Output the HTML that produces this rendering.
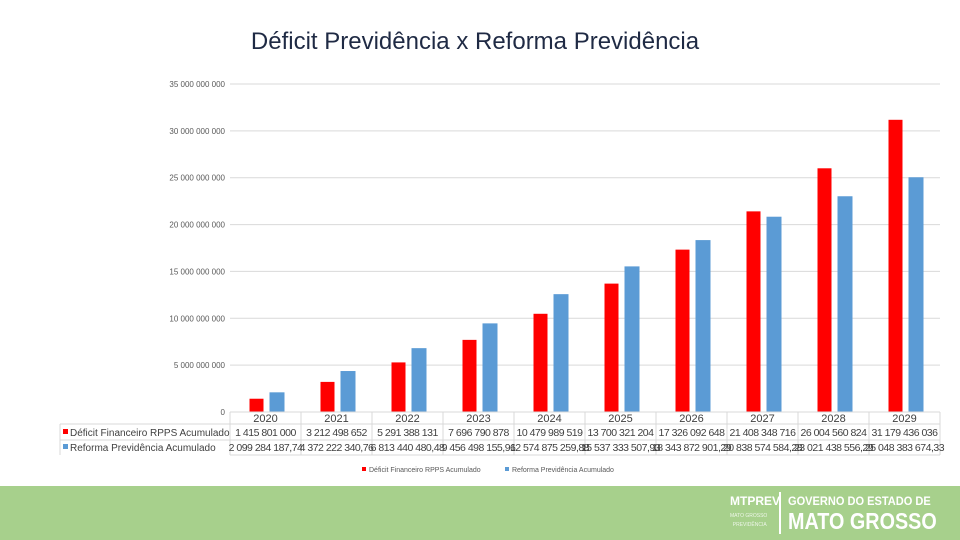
<!DOCTYPE html>
<html><head><meta charset="utf-8"><style>
body{margin:0;width:960px;height:540px;background:#fff;overflow:hidden;font-family:"Liberation Sans",sans-serif;position:relative}
#title{position:absolute;left:0;width:950px;top:28px;text-align:center;font-size:24px;color:#1f2a44}
#footer{position:absolute;left:0;top:486px;width:960px;height:54px;background:#a7d08c;overflow:hidden}
.nw{white-space:nowrap}
</style></head><body>
<div id="title">Déficit Previdência x Reforma Previdência</div>
<svg id="chart" width="960" height="486" style="position:absolute;left:0;top:0"></svg>
<div id="footer">
<div class="nw" style="position:absolute;left:730px;top:8px;color:#fff;font-weight:bold;font-size:12px">MTPREV<div style="font-size:5px;font-weight:normal;margin-top:4px;opacity:.8;line-height:9px">MATO GROSSO<br>&nbsp;&nbsp;PREVIDÊNCIA</div></div>
<div style="position:absolute;left:779px;top:6px;width:2px;height:42px;background:#fff"></div>
<div class="nw" style="position:absolute;left:788px;top:8px;color:#fff;font-weight:bold;font-size:12px;line-height:14px"><span style="display:inline-block;transform:scaleX(0.92);transform-origin:left">GOVERNO DO ESTADO DE</span><div style="font-size:23px;line-height:26px;transform:scaleX(0.86);transform-origin:left">MATO GROSSO</div></div>
</div>
<script>
const categories=["2020","2021","2022","2023","2024","2025","2026","2027","2028","2029"];
const deficit=[1415801000,3212498652,5291388131,7696790878,10479989519,13700321204,17326092648,21408348716,26004560824,31179436036];
const reforma=[2099284187.74,4372222340.76,6813440480.48,9456498155.96,12574875259.88,15537333507.93,18343872901.29,20838574584.28,23021438556.29,25048383674.33];
const deficitLabels=["1 415 801 000","3 212 498 652","5 291 388 131","7 696 790 878","10 479 989 519","13 700 321 204","17 326 092 648","21 408 348 716","26 004 560 824","31 179 436 036"];
const reformaLabels=["2 099 284 187,74","4 372 222 340,76","6 813 440 480,48","9 456 498 155,96","12 574 875 259,88","15 537 333 507,93","18 343 872 901,29","20 838 574 584,28","23 021 438 556,29","25 048 383 674,33"];
const yTicks=[0,5000000000,10000000000,15000000000,20000000000,25000000000,30000000000,35000000000];
const yTickLabels=["0","5 000 000 000","10 000 000 000","15 000 000 000","20 000 000 000","25 000 000 000","30 000 000 000","35 000 000 000"];
const svg=document.getElementById('chart');const NS='http://www.w3.org/2000/svg';
const X0=230,X1=940,Y0=412,Y1=84,MAX=35e9;
const bw=(X1-X0)/categories.length;
const y=v=>Y0-(v/MAX)*(Y0-Y1);
const xc=i=>X0+bw*(i+0.5);
function mk(t,a,txt){const e=document.createElementNS(NS,t);for(const k in a)e.setAttribute(k,a[k]);if(txt!=null)e.textContent=txt;svg.appendChild(e);return e;}
yTicks.forEach((t,i)=>{
 const l=mk('line',{x1:X0,x2:X1,y1:y(t),y2:y(t),stroke:'#d9d9d9','stroke-width':1});
 
 
 const tx=mk('text',{x:225,y:y(t)+3,'text-anchor':'end','font-size':8,fill:'#595959'},yTickLabels[i]);
 
 
});
categories.forEach((c,i)=>{
 const r=mk('rect',{x:xc(i)-16,y:y(deficit[i]),width:14,height:Y0-y(deficit[i]),fill:'#ff0000'});
 
 
 const b=mk('rect',{x:xc(i)+4,y:y(reforma[i]),width:15,height:Y0-y(reforma[i]),fill:'#5b9bd5'});
 
 
});
const rows=[412,424,440,455];
mk('line',{x1:X0,x2:X1,y1:rows[0],y2:rows[0],stroke:'#d9d9d9'});
[1,2,3].forEach(k=>mk('line',{x1:k==3?X0:60,x2:X1,y1:rows[k],y2:rows[k],stroke:'#d9d9d9'}));
mk('line',{x1:60,x2:60,y1:rows[1],y2:rows[3],stroke:'#d9d9d9'});
for(let i=0;i<=categories.length;i++)mk('line',{x1:X0+bw*i,x2:X0+bw*i,y1:rows[0],y2:rows[3],stroke:'#d9d9d9'});
categories.forEach((c,i)=>{
 const h=mk('text',{x:xc(i),y:422,'text-anchor':'middle','font-size':11,fill:'#404040'},c);
 
 
 const d=mk('text',{x:xc(i),y:436,'text-anchor':'middle','font-size':10.5,fill:'#404040','letter-spacing':'-0.5'},deficitLabels[i]);
 
 
 const f=mk('text',{x:xc(i),y:451,'text-anchor':'middle','font-size':10.5,fill:'#404040','letter-spacing':'-0.5'},reformaLabels[i]);
 
 
});
mk('rect',{x:63,y:429,width:5,height:5,fill:'#ff0000'});
mk('rect',{x:63,y:444,width:5,height:5,fill:'#5b9bd5'});
const r1=mk('text',{x:70,y:436,'font-size':10,fill:'#404040'},'Déficit Financeiro RPPS Acumulado');


const r2=mk('text',{x:70,y:451,'font-size':10,fill:'#404040'},'Reforma Previdência Acumulado');


mk('rect',{x:362,y:467,width:4,height:4,fill:'#ff0000'});
const l1=mk('text',{x:369,y:472,'font-size':7,fill:'#595959'},'Déficit Financeiro RPPS Acumulado');


mk('rect',{x:505,y:467,width:4,height:4,fill:'#5b9bd5'});
const l2=mk('text',{x:512,y:472,'font-size':7,fill:'#595959'},'Reforma Previdência Acumulado');


</script>
</body></html>
